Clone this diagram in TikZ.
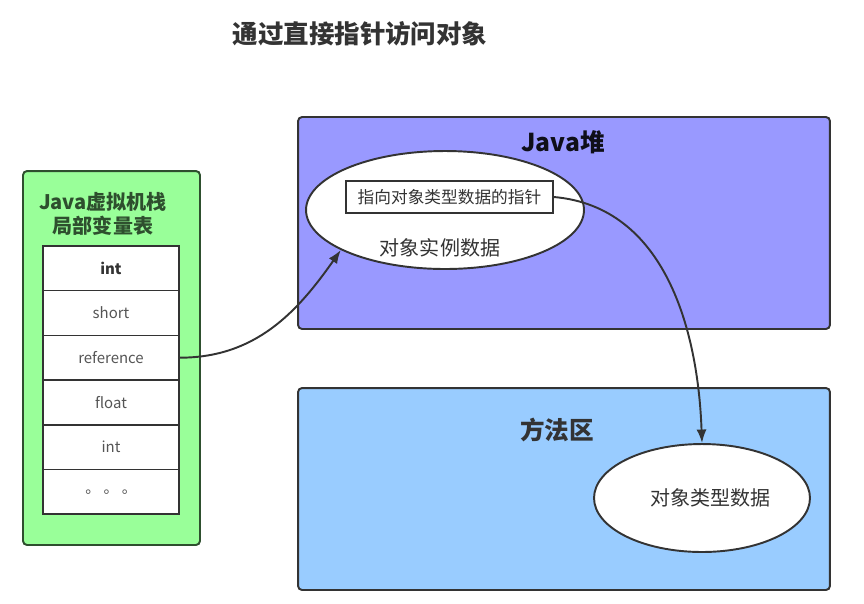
\documentclass[tikz,border=0pt]{standalone}
\usepackage{fontspec}
\setmainfont{Noto Sans CJK SC}
\usetikzlibrary{shapes.geometric,arrows.meta}

\definecolor{stackgreen}{HTML}{99FF99}
\definecolor{stackline}{HTML}{2E4F2E}
\definecolor{heapblue}{HTML}{9999FF}
\definecolor{methodblue}{HTML}{99CCFF}
\definecolor{inktext}{HTML}{333333}
\definecolor{celltext}{HTML}{555555}

\tikzset{
  area/.style={draw=inktext, line width=1.1pt, rounded corners=0.08cm, inner sep=0pt},
  cell/.style={draw=inktext, fill=white, line width=0.9pt, minimum width=2.72cm, minimum height=0.893cm, inner sep=0pt, text=celltext, font=\fontsize{8.5}{10}\selectfont},
  blob/.style={ellipse, draw=inktext, fill=white, line width=1.1pt, inner sep=0pt, text=inktext},
  areatitle/.style={font=\fontsize{14}{16}\selectfont\bfseries, text=inktext},
  pointer/.style={->, >={Latex[length=0.27cm,width=0.2cm]}, draw=inktext, line width=1.1pt}
}

\begin{document}
\begin{tikzpicture}[x=0.02cm, y=-0.02cm]
      \useasboundingbox (0,0) rectangle (864,603);

      % titulo
      \node[font=\fontsize{14.5}{17}\selectfont\bfseries, text=inktext] (title) at (360,34) {通过直接指针访问对象};

      % pila de la JVM
      \node[area, draw=stackline, fill=stackgreen, minimum width=3.54cm, minimum height=7.48cm] (stack) at (111.5,358) {};
      \node[font=\fontsize{11.4}{14}\selectfont\bfseries, text=stackline, align=center] (stacklabel) at (103,214) {Java虚拟机栈\\局部变量表};
      \foreach \txt [count=\i] in {{\bfseries\color{inktext}int}, short, reference, float, int, 。 。 。}
        \node[cell] (cell\i) at (111,{246+44.67*(\i-0.5)}) {\txt};

      % heap
      \node[area, fill=heapblue, minimum width=10.64cm, minimum height=4.24cm] (heap) at (564,223) {};
      \node[areatitle, text=black!75!heapblue!40!black] (heaplabel) at (563,142) {Java堆};
      \node[blob, minimum width=5.56cm, minimum height=2.36cm] (inst) at (445,210) {};
      \node[draw=inktext, fill=white, line width=1.1pt, minimum width=4.14cm, minimum height=0.64cm, inner sep=0pt, text=inktext, font=\fontsize{9.5}{11}\selectfont] (ptr) at (449.5,197) {指向对象类型数据的指针};
      \node[font=\fontsize{11.4}{14}\selectfont, text=inktext] (insttext) at (440,248) {对象实例数据};

      % area de metodos
      \node[area, fill=methodblue, minimum width=10.64cm, minimum height=4.04cm] (method) at (564,489) {};
      \node[areatitle] (methodlabel) at (557,430) {方法区};
      \node[blob, minimum width=4.32cm, minimum height=2.16cm, font=\fontsize{11.4}{14}\selectfont] (type) at (702,498) {\hspace{0.35cm}对象类型数据};

      % flechas
      \draw[pointer] (cell3.east) to[out=0, in=235] (inst.201);
      \draw[pointer] (ptr.east) to[out=-5, in=92] (type.north);

\end{tikzpicture}
\end{document}
